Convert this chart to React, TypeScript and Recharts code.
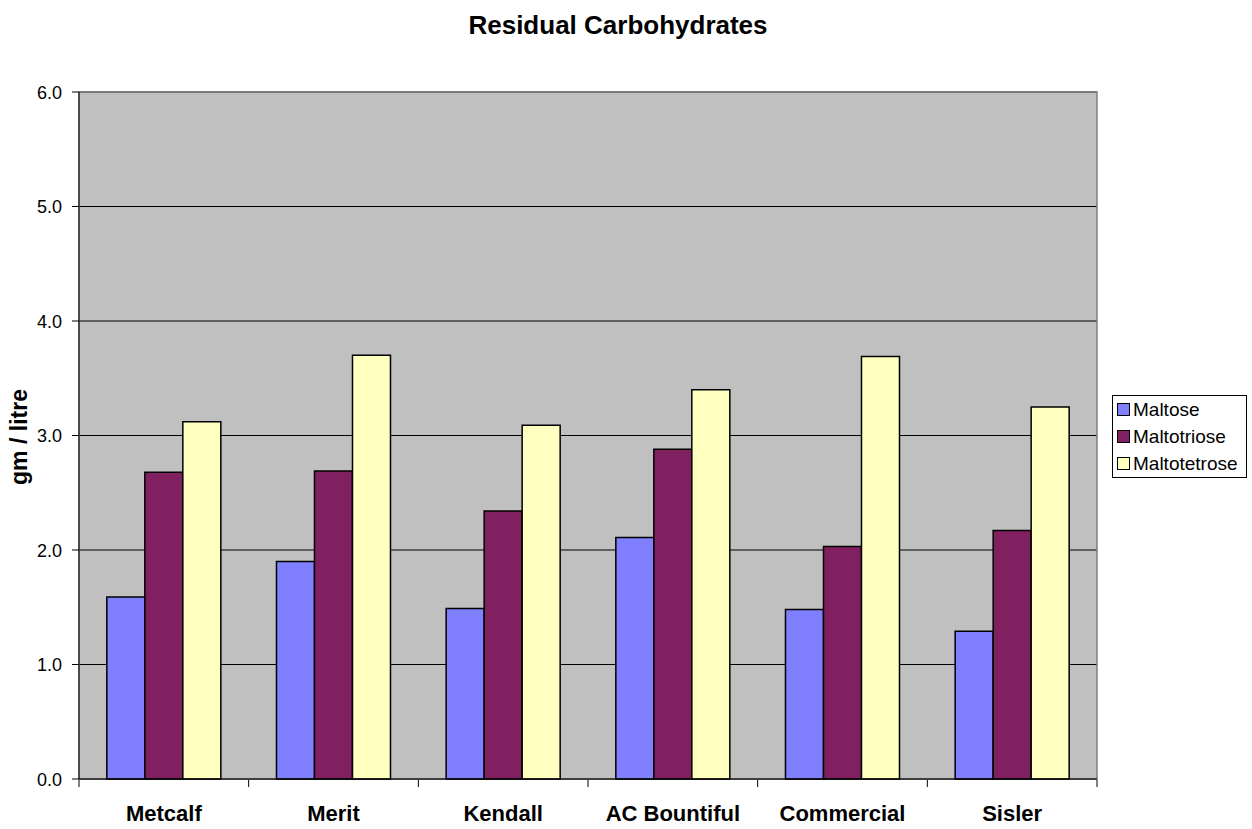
import React from 'react'
import {
  BarChart,
  Bar,
  XAxis,
  YAxis,
  CartesianGrid,
  ReferenceArea
} from 'recharts'

const varieties = ['Metcalf', 'Merit', 'Kendall', 'AC Bountiful', 'Commercial', 'Sisler']
const maltose = [1.59, 1.9, 1.49, 2.11, 1.48, 1.29]
const maltotriose = [2.68, 2.69, 2.34, 2.88, 2.03, 2.17]
const maltotetrose = [3.12, 3.7, 3.09, 3.4, 3.69, 3.25]
const yTicks = [0, 1, 2, 3, 4, 5, 6]

const series = [
  { key: 'maltose', name: 'Maltose', color: '#8080ff' },
  { key: 'maltotriose', name: 'Maltotriose', color: '#802060' },
  { key: 'maltotetrose', name: 'Maltotetrose', color: '#ffffc0' }
]

const chartData = varieties.map((name, i) => ({
  name,
  maltose: maltose[i],
  maltotriose: maltotriose[i],
  maltotetrose: maltotetrose[i]
}))

const FONT = 'Liberation Sans, Arial, sans-serif'
const W = 1252
const H = 829
const margin = { top: 92, right: 155, bottom: 8, left: 29 }
const yAxisWidth = 50

// category labels plus the boundary tick marks between categories
const CategoryTick = (props: any) => {
  const { x, y, payload, index } = props
  const plotW = W - margin.left - yAxisWidth - margin.right
  const band = plotW / varieties.length
  const left = x - band / 2
  return (
    <g>
      <line x1={left} x2={left} y1={y - 7} y2={y} stroke="#000" />
      {index === varieties.length - 1 && (
        <line x1={left + band} x2={left + band} y1={y - 7} y2={y} stroke="#000" />
      )}
      <text x={x} y={y + 34} textAnchor="middle" fontFamily={FONT} fontWeight="bold" fontSize={22} fill="#000">
        {payload.value}
      </text>
    </g>
  )
}

const ValueTick = (props: any) => {
  const { x, y, payload } = props
  return (
    <text x={x - 8} y={y + 6.5} textAnchor="end" fontFamily={FONT} fontSize={18} fill="#000">
      {Number(payload.value).toFixed(1)}
    </text>
  )
}

export default function App() {
  return (
    <div style={{ position: 'fixed', left: 0, top: 0, width: W, height: H, background: '#fff' }}>
      <div
        style={{
          position: 'absolute',
          top: 10,
          left: 0,
          width: W - 16,
          textAlign: 'center',
          fontFamily: FONT,
          fontWeight: 'bold',
          fontSize: 26
        }}
      >
        Residual Carbohydrates
      </div>
      <div
        style={{
          position: 'absolute',
          left: 19,
          top: 437,
          transform: 'translate(-50%, -50%) rotate(-90deg)',
          fontFamily: FONT,
          fontWeight: 'bold',
          fontSize: 23,
          whiteSpace: 'nowrap'
        }}
      >
        gm / litre
      </div>
      <BarChart
        width={W}
        height={H}
        data={chartData}
        margin={margin}
        barCategoryGap="16.4%"
        barGap={0}
        style={{ position: 'absolute', left: 0, top: 0 }}
      >
        <CartesianGrid vertical={false} stroke="#000" fill="#c0c0c0" />
        {/* plot area frame */}
        <ReferenceArea y1={0} y2={6} fill="none" stroke="#808080" strokeWidth={1.5} />
        <XAxis
          dataKey="name"
          height={42}
          tickLine={false}
          axisLine={{ stroke: '#000' }}
          tick={<CategoryTick />}
          interval={0}
        />
        <YAxis
          type="number"
          domain={[0, 6]}
          ticks={yTicks}
          width={yAxisWidth}
          tickSize={7}
          tickLine={{ stroke: '#000' }}
          axisLine={{ stroke: '#000' }}
          tick={<ValueTick />}
        />
        {series.map(s => (
          <Bar
            key={s.key}
            dataKey={s.key}
            name={s.name}
            fill={s.color}
            stroke="#000"
            strokeWidth={1.5}
            isAnimationActive={false}
          />
        ))}
      </BarChart>
      <div
        style={{
          position: 'absolute',
          left: 1112,
          top: 395,
          width: 126,
          border: '1px solid #000',
          background: '#fff',
          padding: '0 3px 0 4px',
          fontFamily: FONT,
          fontSize: 19
        }}
      >
        {series.map(s => (
          <div key={s.key} style={{ display: 'flex', alignItems: 'center', height: 27 }}>
            <span
              style={{
                display: 'inline-block',
                width: 11,
                height: 11,
                border: '1px solid #000',
                background: s.color,
                marginRight: 3,
                flexShrink: 0
              }}
            />
            <span>{s.name}</span>
          </div>
        ))}
      </div>
    </div>
  )
}
